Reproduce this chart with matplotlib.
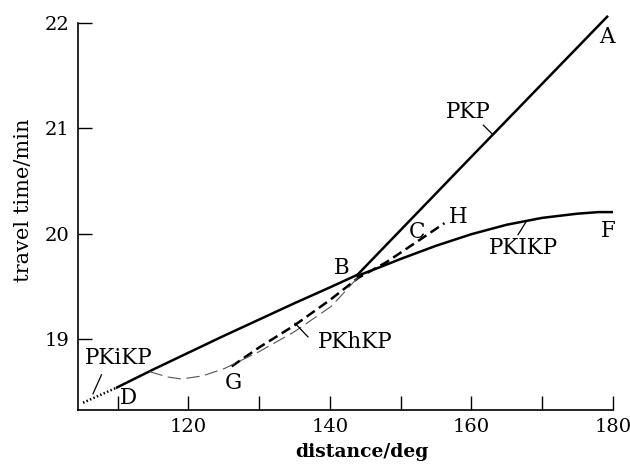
import matplotlib
matplotlib.use("Agg")
import matplotlib.pyplot as plt

# travel-time branches (distance in deg, time in min)
pkp_dist = [143.9, 160.0, 179.2]
pkp_time = [19.61, 20.73, 22.06]

db_dist = [109.9, 115.0, 120.0, 125.0, 130.0, 135.0, 140.0, 143.9]
db_time = [18.54, 18.71, 18.87, 19.03, 19.185, 19.34, 19.49, 19.61]

pkikp_dist = [143.9, 147.0, 150.0, 155.0, 160.0, 165.0, 170.0, 175.0, 178.0, 180.0]
pkikp_time = [19.60, 19.68, 19.76, 19.885, 19.995, 20.085, 20.15, 20.19, 20.205, 20.205]

gh_dist = [126.1, 130.0, 135.0, 140.0, 144.0, 148.0, 152.0, 156.2]
gh_time = [18.74, 18.92, 19.13, 19.37, 19.58, 19.73, 19.91, 20.10]

diff_dist = [114.5, 117.0, 119.0, 122.0, 125.1, 130.0, 135.0, 140.2, 143.9]
diff_time = [18.69, 18.64, 18.62, 18.65, 18.72, 18.88, 19.07, 19.31, 19.58]

pkikp_dot_dist = [105.1, 109.9]
pkikp_dot_time = [18.395, 18.54]

x_major = [120, 140, 160, 180]
x_minor = [110, 130, 150, 170]
y_major = [19, 20, 21, 22]

plt.rcParams["font.family"] = "DejaVu Serif"

fig = plt.figure(figsize=(6.3, 4.65), dpi=100)
ax = fig.add_axes([0.124, 0.1183, 0.8487, 0.8548])

ax.plot(pkp_dist, pkp_time, color="black", lw=1.8)
ax.plot(db_dist, db_time, color="black", lw=1.8)
ax.plot(pkikp_dist, pkikp_time, color="black", lw=1.8)
ax.plot(gh_dist, gh_time, color="black", lw=1.8, linestyle=(0, (4, 2)))
ax.plot(diff_dist, diff_time, color="#555555", lw=0.8, linestyle=(0, (12, 5)))
ax.plot(pkikp_dot_dist, pkikp_dot_time, color="black", lw=1.8, linestyle=(0, (0.6, 0.9)))

# labels
fs = 15.5
ax.text(179.15, 21.87, "A", fontsize=fs, ha="center", va="center")
ax.text(159.6, 21.16, "PKP", fontsize=fs, ha="center", va="center")
ax.plot([161.7, 162.9], [21.03, 20.95], color="black", lw=0.9)
ax.text(152.3, 20.02, "C", fontsize=fs, ha="center", va="center")
ax.text(158.2, 20.16, "H", fontsize=fs, ha="center", va="center")
ax.text(179.4, 20.03, "F", fontsize=fs, ha="center", va="center")
ax.text(167.4, 19.86, "PKIKP", fontsize=fs, ha="center", va="center")
ax.plot([166.6, 167.8], [19.99, 20.12], color="black", lw=0.9)
ax.text(141.7, 19.67, "B", fontsize=fs, ha="center", va="center")
ax.text(143.55, 18.97, "PKhKP", fontsize=fs, ha="center", va="center")
ax.plot([135.06, 136.9], [19.15, 19.02], color="black", lw=0.9)
ax.text(126.3, 18.58, "G", fontsize=fs, ha="center", va="center")
ax.text(111.5, 18.44, "D", fontsize=fs, ha="center", va="center")
ax.text(110.1, 18.82, "PKiKP", fontsize=fs, ha="center", va="center")
ax.plot([107.7, 106.5], [18.66, 18.48], color="black", lw=0.9)

ax.set_xlim(104.4, 180)
ax.set_ylim(18.326, 22.1)
ax.set_xticks(x_major)
ax.set_xticks(x_minor, minor=True)
ax.set_yticks(y_major)
ax.tick_params(axis="both", which="both", direction="in", length=10, width=1,
               labelsize=14, pad=6)
ax.spines["top"].set_visible(False)
ax.spines["right"].set_visible(False)
ax.spines["left"].set_bounds(18.326, 22)
ax.spines["left"].set_linewidth(1.2)
ax.spines["bottom"].set_linewidth(1.2)

fig.text(0.575, 0.028, "distance/deg", fontsize=13.5, fontweight="bold",
         ha="center", va="center")
fig.text(0.038, 0.570, "travel time/min", fontsize=15, rotation=90,
         ha="center", va="center")

plt.savefig("out.png", dpi=100)
plt.close()
